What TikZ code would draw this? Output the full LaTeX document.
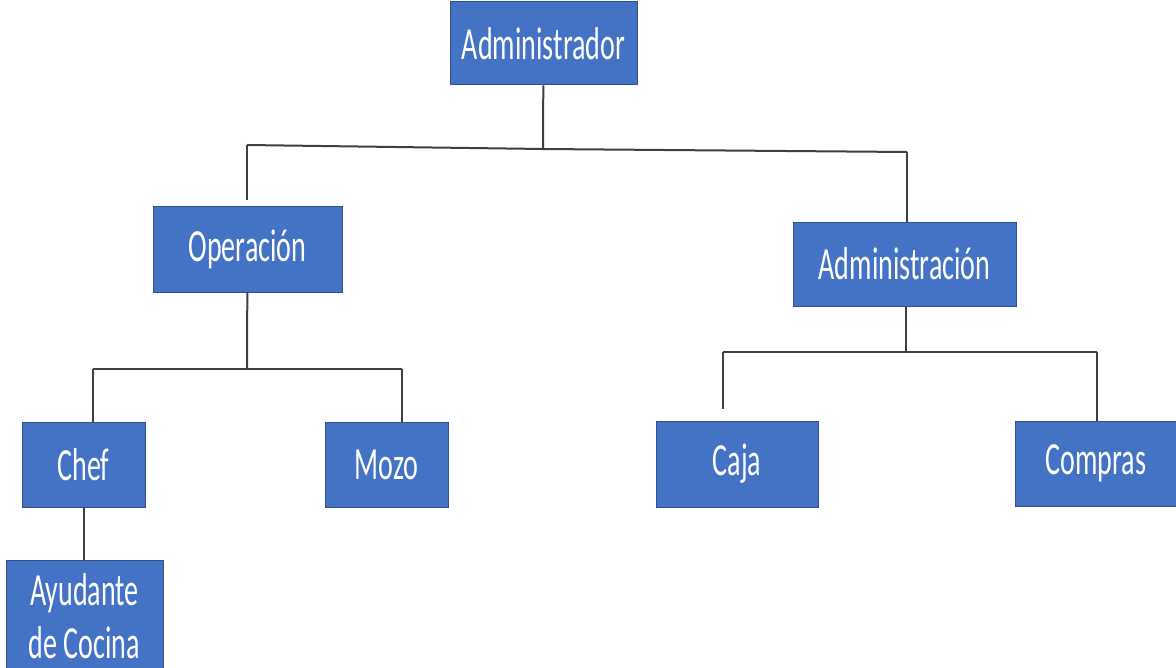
\documentclass[tikz,border=0pt]{standalone}
\usepackage{fontspec}
\newfontfamily\boxfont[FakeStretch=0.61]{Carlito}
\usepackage{xcolor}
\definecolor{boxfill}{HTML}{4472C4}
\definecolor{boxline}{HTML}{2F528F}
\definecolor{wire}{HTML}{3F3F3F}
\usepackage{tikz}
\usetikzlibrary{positioning}
\tikzset{
  role/.style = {rectangle, draw=boxline, line width=0.5pt, fill=boxfill,
                 text=white, inner sep=0pt, align=center,
                 font=\boxfont\fontsize{23}{26.5}\selectfont},
  conn/.style = {draw=wire, line width=1pt}
}

\begin{document}
\begin{tikzpicture}[x=0.5pt, y=-0.5pt]
  \useasboundingbox (0,0) rectangle (1176,668);
  % junction points of the tree
  \coordinate (t1) at (543,149);
  \coordinate (t2) at (247,145);
  \coordinate (t3) at (907,152);
  \coordinate (o1) at (247,200);
  \coordinate (r1) at (907,231);
  \coordinate (m1) at (247,369);
  \coordinate (c1) at (93,369);
  \coordinate (c2) at (402,369);
  \coordinate (n1) at (906,352);
  \coordinate (d1) at (723,352);
  \coordinate (d2) at (1097,352);
  \coordinate (d3) at (723,409);
  % connectors
  \foreach \a/\b in {t2/t1,t1/t3,t2/o1,t3/r1,c1/c2,d1/d2,d1/d3}
    \draw[conn] (\a) -- (\b);
  % boxes
  \node[role, minimum width=93.5pt, minimum height=41.5pt] (adm)  at (543.5,43.5) {Administrador};
  \node[role, minimum width=94.5pt, minimum height=42.5pt] (ope)  at (247.5,249.5) {Operación};
  \node[role, minimum width=111.5pt, minimum height=42pt] (admn) at (904.5,264) {Administración};
  \node[role, minimum width=61.5pt, minimum height=42.5pt] (chef) at (83.5,464.5) {Chef};
  \node[role, minimum width=61.5pt, minimum height=42.5pt] (mozo) at (386.5,464.5) {Mozo};
  \node[role, minimum width=81pt, minimum height=43pt]    (caja) at (737,464) {Caja};
  \node[role, minimum width=81pt, minimum height=42.5pt]  (comp) at (1096,463.5) {Compras};
  \node[role, minimum width=78.5pt, minimum height=56pt]  (ayud) at (84.5,616) {Ayudante\\de Cocina};
  \draw[conn] (adm) -- (t1);
  \draw[conn] (ope) -- (m1);
  \draw[conn] (admn.south -| n1) -- (n1);
  \draw[conn] (c1) -- (chef.north -| c1);
  \draw[conn] (c2) -- (mozo.north -| c2);
  \draw[conn] (d2) -- (comp.north -| d2);
  \draw[conn] (chef.south) -- (ayud.north -| chef.south);
\end{tikzpicture}
\end{document}
